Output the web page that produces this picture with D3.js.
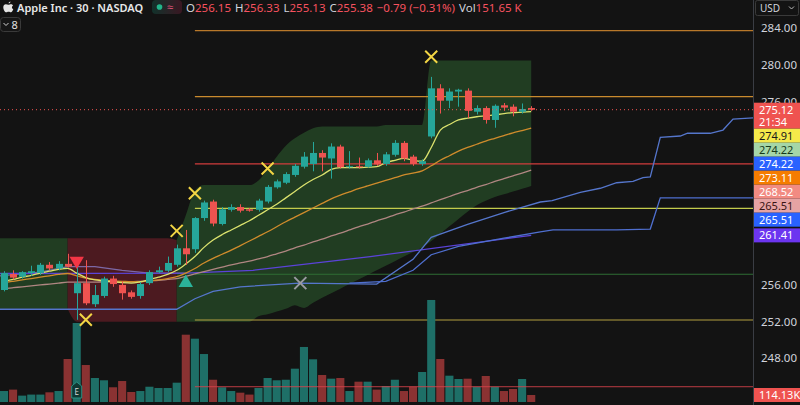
<!DOCTYPE html>
<html>
<head>
<meta charset="utf-8">
<script src="https://cdn.jsdelivr.net/npm/d3@7"></script>
<style>
  html, body { margin: 0; padding: 0; background: #131313; }
  svg { display: block; font-family: "Noto Sans", sans-serif; }
</style>
</head>
<body>
<svg id="chart" width="800" height="405"></svg>
<script>
const opens = [255.45, 257.2, 256.9, 257.3, 257.3, 258.2, 257.8, 258.3, 255.1, 256.2,
  253.9, 254.8, 256.7, 256.0, 255.2, 254.8, 256.2, 257.4, 257.55, 258.2,
  260.0, 259.9, 263.3, 265.1, 262.65, 264.2, 264.5, 264.25, 264.2, 265.1,
  266.65, 267.15, 268.0, 268.9, 269.2, 270.4, 269.8, 271.1, 268.85, 268.95,
  268.9, 269.6, 269.2, 270.2, 271.5, 270.0, 269.2, 272.2, 277.45, 276.1,
  277.1, 277.2, 274.9, 275.3, 274.0, 275.6, 275.45, 274.9, 275.3];
const highs = [257.5, 257.6, 257.5, 258.1, 258.4, 258.5, 258.6, 259.4, 258.2, 258.7,
  256.0, 256.9, 257.0, 256.4, 255.4, 256.3, 257.6, 258.0, 259.1, 260.4,
  262.0, 263.4, 265.2, 265.3, 264.5, 264.8, 264.8, 264.4, 265.4, 266.9,
  267.5, 268.3, 269.2, 270.5, 271.6, 270.7, 271.45, 271.3, 270.6, 269.9,
  269.8, 270.4, 270.5, 271.8, 271.7, 270.2, 269.7, 278.7, 277.9, 277.45,
  277.4, 277.45, 275.6, 275.5, 275.7, 275.85, 275.7, 275.8, 275.5];
const lows = [255.3, 256.6, 256.7, 257.0, 257.1, 257.6, 257.6, 257.9, 252.2, 253.8,
  253.6, 254.6, 255.8, 254.4, 254.5, 254.5, 256.0, 257.3, 257.4, 258.0,
  258.2, 259.5, 263.0, 262.4, 262.5, 264.0, 263.9, 264.0, 264.0, 264.9,
  266.5, 267.0, 267.8, 268.7, 268.4, 268.4, 267.6, 268.7, 268.7, 268.7,
  268.8, 269.0, 269.0, 270.0, 269.5, 269.0, 269.0, 272.0, 274.7, 275.3,
  275.45, 274.2, 274.6, 273.6, 273.15, 275.0, 274.4, 274.7, 275.0];
const closes = [257.3, 256.8, 257.4, 257.5, 258.2, 257.8, 258.3, 258.0, 256.2, 254.0,
  254.9, 256.7, 256.1, 255.1, 254.7, 256.1, 257.4, 257.6, 258.4, 260.0,
  259.35, 263.3, 265.0, 262.7, 264.25, 264.5, 264.1, 264.1, 265.2, 266.7,
  267.3, 268.1, 269.0, 270.0, 270.4, 269.9, 271.1, 268.85, 268.95, 268.85,
  269.6, 269.15, 270.25, 271.5, 269.8, 269.2, 269.5, 277.45, 276.1, 277.1,
  277.3, 275.0, 275.3, 274.0, 275.55, 275.35, 274.9, 275.2, 275.12];
// volume in thousands
const volumes = [179, 202, 104, 121, 121, 158, 179, 701, 1288, 603,
  391, 354, 240, 342, 163, 179, 249, 228, 228, 315,
  1097, 1032, 782, 363, 240, 179, 152, 121, 228, 391,
  354, 363, 543, 897, 696, 440, 380, 391, 179, 331,
  331, 202, 261, 363, 179, 249, 489, 1663, 701, 429,
  375, 380, 249, 424, 249, 179, 212, 375, 114.13];

const maFast = [256.4, 256.6, 256.85, 257.05, 257.3, 257.5, 257.7, 257.8, 257.3, 256.8,
  256.55, 256.45, 256.35, 256.25, 256.2, 256.35, 256.6, 256.85, 257.15, 257.6,
  258.3, 259.1, 260.1, 260.9, 261.5, 262.0, 262.5, 263.0, 263.6, 264.2,
  264.8, 265.5, 266.2, 266.9, 267.5, 268.0, 268.6, 268.8, 268.8, 268.8,
  268.85, 268.9, 269.35, 269.6, 269.8, 269.6, 269.5, 271.0, 272.9, 273.5,
  274.0, 274.2, 274.35, 274.45, 274.55, 274.7, 274.8, 274.85, 274.91];
const maMid = [256.25, 256.4, 256.55, 256.7, 256.85, 257.0, 257.15, 257.25, 257.0, 256.75,
  256.6, 256.5, 256.45, 256.4, 256.35, 256.35, 256.45, 256.55, 256.7, 256.9,
  257.3, 257.8, 258.4, 258.9, 259.35, 259.8, 260.3, 260.8, 261.3, 261.8,
  262.35, 262.9, 263.4, 263.9, 264.4, 264.9, 265.4, 265.8, 266.15, 266.5,
  266.8, 267.1, 267.4, 267.7, 268.0, 268.2, 268.45, 269.0, 269.6, 270.1,
  270.6, 271.0, 271.35, 271.7, 272.0, 272.3, 272.6, 272.85, 273.11];
const maSlow = [255.6, 255.7, 255.8, 255.9, 256.0, 256.1, 256.2, 256.3, 256.3, 256.3,
  256.3, 256.35, 256.35, 256.35, 256.35, 256.4, 256.45, 256.5, 256.6, 256.7,
  256.95, 257.2, 257.45, 257.7, 257.95, 258.2, 258.4, 258.6, 258.85, 259.1,
  259.4, 259.7, 260.05, 260.35, 260.7, 261.0, 261.35, 261.65, 262.0, 262.35,
  262.65, 263.0, 263.3, 263.65, 263.95, 264.3, 264.6, 264.95, 265.3, 265.65,
  266.0, 266.3, 266.65, 266.95, 267.3, 267.6, 267.9, 268.2, 268.52];

const cloudUpper = [261.1, 261.1, 261.1, 261.1, 261.1, 261.1, 261.1, 261.1, 261.1, 261.1,
  261.1, 261.1, 261.1, 261.1, 261.1, 261.1, 261.1, 261.1, 261.1, 260.9,
  263.6, 266.3, 266.9, 266.9, 266.9, 266.9, 266.9, 266.9, 267.4, 268.6,
  270.0, 271.2, 272.0, 272.6, 273.1, 273.3, 273.3, 273.3, 273.3, 273.3,
  273.3, 273.3, 273.45, 273.45, 273.45, 273.45, 273.45, 280.5, 280.5, 280.5,
  280.5, 280.5, 280.5, 280.5, 280.5, 280.5, 280.5, 280.5, 280.5];
const cloudLower = [253.4, 253.4, 253.4, 253.4, 253.4, 253.4, 253.4, 253.4, 252.0, 252.0,
  252.0, 252.0, 252.0, 252.0, 252.0, 252.0, 252.0, 252.0, 252.0, 252.0,
  252.0, 252.0, 252.0, 252.0, 252.0, 252.0, 252.0, 252.0, 252.6, 252.8,
  253.1, 253.4, 253.8, 253.5, 254.05, 254.6, 255.1, 255.6, 256.1, 256.6,
  257.1, 257.6, 258.1, 258.6, 259.1, 259.6, 260.1, 260.8, 261.6, 262.4,
  263.2, 264.0, 264.7, 265.2, 265.6, 265.9, 266.2, 266.5, 266.8];
const cloudTrend = [1, 1, 1, 1, 1, 1, 1, -1, -1, -1,
  -1, -1, -1, -1, -1, -1, -1, -1, -1, 1,
  1, 1, 1, 1, 1, 1, 1, 1, 1, 1,
  1, 1, 1, 1, 1, 1, 1, 1, 1, 1,
  1, 1, 1, 1, 1, 1, 1, 1, 1, 1,
  1, 1, 1, 1, 1, 1, 1, 1, 1];

// [bar index, price]
const bluePrimary = [[-0.44, 253.35], [19, 253.35], [21, 254.5], [23, 255.3], [26, 255.8], [32.5, 256.2],
  [41, 256.1], [45, 258.8], [47, 261.2], [51, 262.6], [55, 263.9], [59, 265.05], [60.3, 265.2],
  [63.4, 266.1], [65.6, 266.55], [67.4, 267.15], [69.2, 267.3], [70.3, 267.7], [71.1, 267.8],
  [72.2, 272.1], [74.4, 272.25], [75.2, 272.55], [77.7, 272.55], [79.1, 272.9], [80.2, 274.1], [82.4, 274.22]];
const blueSecondary = [[38, 256.2], [42, 256.4], [45, 257.6], [47, 259.3], [50, 260.2], [55, 261.1],
  [59, 261.8], [60.4, 262.0], [67.4, 262.0], [71.1, 262.1], [72.2, 265.51], [82.4, 265.51]];
const purpleLine = [[-0.44, 257.25], [20, 257.3], [27.4, 257.6], [40.3, 259.1], [58, 261.41]];
const lavenderLine = [[-0.44, 257.0], [4, 257.4], [7, 258.0], [10, 258.0], [13, 257.6], [16, 257.3], [20, 257.3]];

const levelPrices = [283.75, 276.55, 269.2, 264.35, 257.17, 252.18];
const levelColors = ["#b8782a", "#c98a2e", "#d23c3c", "#c4cc4c", "#2f6e35", "#b4a040"];
const levelStart = 21;
const volumeLevel = 249;

const crossMarks = [[9, 252.2], [19, 261.9], [21, 266.0], [29, 268.7], [47, 280.9]];
const greyCross = [32.6, 256.2];
const sellSignal = [8, 258.2];
const buySignal = [20, 256.9];
const earningsBar = 8;

const priceTicks = [284, 280, 276, 272, 268, 264, 260, 256, 252, 248];
const axisLabels = [
  { v: 275.12, text: "275.12", sub: "21:34", bg: "#ef5350", fg: "#ffffff" },
  { v: 274.91, text: "274.91", bg: "#f5e94a", fg: "#1a1a1a" },
  { v: 274.22, text: "274.22", bg: "#a5d6a7", fg: "#163a1a" },
  { v: 274.22, text: "274.22", bg: "#2962ff", fg: "#ffffff" },
  { v: 273.11, text: "273.11", bg: "#f57c00", fg: "#ffffff" },
  { v: 268.52, text: "268.52", bg: "#f28b82", fg: "#ffffff" },
  { v: 265.51, text: "265.51", bg: "#e6a3a3", fg: "#3a1414" },
  { v: 265.51, text: "265.51", bg: "#2962ff", fg: "#ffffff" },
  { v: 261.41, text: "261.41", bg: "#6c35f0", fg: "#ffffff" },
];
const lastPrice = 275.12;

const svg = d3.select("#chart");
const plotRight = 753;
const up = "#26a69a";
const down = "#ef5350";

const x = d3.scaleLinear().domain([-0.44, 82.4]).range([0, plotRight]);
const y = d3.scaleLinear().domain([248, 284]).range([358.3, 28.3]);
const yVol = d3.scaleLinear().domain([0, 2000]).range([402, 402 - 2000 / 16.3]);
const step = x(1) - x(0);

svg.append("rect").attr("width", 800).attr("height", 405).attr("fill", "#131313");

// trend cloud, split into runs of the same direction
const runs = [];
let start = 0;
for (let i = 1; i <= closes.length; i++) {
  if (i === closes.length || cloudTrend[i] !== cloudTrend[start]) {
    runs.push({ from: start, to: Math.min(i, closes.length - 1), trend: cloudTrend[start] });
    start = i;
  }
}
const cloudArea = d3
  .area()
  .x((d) => {
    return d.i === 0 ? 0 : x(d.i);
  })
  .y0((d) => {
    return y(cloudLower[d.i]);
  })
  .y1((d) => {
    return y(cloudUpper[d.i]);
  })
  .curve(d3.curveMonotoneX);
svg
  .append("g")
  .selectAll("path")
  .data(runs)
  .join("path")
  .attr("d", (r) => {
    return cloudArea(d3.range(r.from, r.to + 1).map((i) => ({ i })));
  })
  .attr("fill", (r) => {
    return r.trend > 0 ? "#213d22" : "#4c1a20";
  });

// horizontal levels
svg
  .append("g")
  .selectAll("line")
  .data(levelPrices)
  .join("line")
  .attr("x1", x(levelStart))
  .attr("x2", plotRight)
  .attr("y1", (d) => y(d))
  .attr("y2", (d) => y(d))
  .attr("stroke", (d, i) => levelColors[i])
  .attr("stroke-width", 1.2);

// volume
svg
  .append("g")
  .selectAll("rect")
  .data(volumes)
  .join("rect")
  .attr("x", (d, i) => x(i) - step / 2 + 0.5)
  .attr("width", step - 1)
  .attr("y", (d) => yVol(d))
  .attr("height", (d) => yVol(0) - yVol(d))
  .attr("fill", (d, i) => {
    return closes[i] >= opens[i] ? "#1e6f67" : "#8a3232";
  });
svg
  .append("line")
  .attr("x1", x(levelStart))
  .attr("x2", plotRight)
  .attr("y1", yVol(volumeLevel))
  .attr("y2", yVol(volumeLevel))
  .attr("stroke", "#d9434b")
  .attr("stroke-opacity", 0.85);

// moving averages and other indicator lines
const barLine = d3
  .line()
  .x((d, i) => x(i))
  .y((d) => y(d));
const pointLine = d3
  .line()
  .x((d) => x(d[0]))
  .y((d) => y(d[1]));
const lines = svg.append("g").attr("fill", "none").attr("stroke-width", 1.3);
lines.append("path").attr("d", pointLine(lavenderLine)).attr("stroke", "#8a7cc8").attr("stroke-opacity", 0.8);
lines.append("path").attr("d", pointLine(purpleLine)).attr("stroke", "#5b43d9");
lines.append("path").attr("d", pointLine(bluePrimary)).attr("stroke", "#5576cc");
lines.append("path").attr("d", pointLine(blueSecondary)).attr("stroke", "#4f6fcf");
lines.append("path").attr("d", barLine.curve(d3.curveMonotoneX)(maSlow)).attr("stroke", "#b08682");
lines.append("path").attr("d", barLine(maMid)).attr("stroke", "#d08c2c");
lines.append("path").attr("d", barLine(maFast)).attr("stroke", "#dbe26e");

// candles
const candles = svg.append("g").selectAll("g").data(closes).join("g");
candles
  .append("line")
  .attr("x1", (d, i) => Math.round(x(i)) + 0.5)
  .attr("x2", (d, i) => Math.round(x(i)) + 0.5)
  .attr("y1", (d, i) => y(highs[i]))
  .attr("y2", (d, i) => y(lows[i]))
  .attr("stroke", (d, i) => (d >= opens[i] ? up : down));
candles
  .append("rect")
  .attr("x", (d, i) => Math.round(x(i)) - 3)
  .attr("width", 7)
  .attr("y", (d, i) => y(Math.max(d, opens[i])))
  .attr("height", (d, i) => Math.max(1, Math.abs(y(d) - y(opens[i]))))
  .attr("fill", (d, i) => (d >= opens[i] ? up : down));

// markers
const cross = (g, cx, cy, color) => {
  g.append("path")
    .attr("d", `M${cx - 6},${cy - 6}L${cx + 6},${cy + 6}M${cx + 6},${cy - 6}L${cx - 6},${cy + 6}`)
    .attr("stroke", color)
    .attr("stroke-width", 2)
    .attr("fill", "none");
};
const marks = svg.append("g");
crossMarks.forEach((m) => cross(marks, x(m[0]), y(m[1]), "#f2d544"));
cross(marks, x(greyCross[0]), y(greyCross[1]), "#9a9aa2");
marks
  .append("path")
  .attr("d", d3.symbol(d3.symbolTriangle, 90))
  .attr("transform", `translate(${x(sellSignal[0])},${y(sellSignal[1]) - 4}) rotate(180)`)
  .attr("fill", "#f23645");
marks
  .append("path")
  .attr("d", d3.symbol(d3.symbolTriangle, 90))
  .attr("transform", `translate(${x(buySignal[0])},${y(buySignal[1]) + 6})`)
  .attr("fill", "#2bb39a");
const ex = x(earningsBar);
marks
  .append("path")
  .attr("d", `M${ex - 5},${386}L${ex},${382}L${ex + 5},${386}L${ex + 5},${398}L${ex - 5},${398}Z`)
  .attr("fill", "#0f3833")
  .attr("stroke", "#2a8f82");
marks
  .append("text")
  .attr("x", ex)
  .attr("y", 395)
  .attr("text-anchor", "middle")
  .attr("font-size", 8)
  .attr("fill", "#d8d8d8")
  .text("E");

// last price dotted line
svg
  .append("line")
  .attr("x1", 0)
  .attr("x2", plotRight)
  .attr("y1", y(lastPrice))
  .attr("y2", y(lastPrice))
  .attr("stroke", "#ef5350")
  .attr("stroke-dasharray", "1,3");

// header
const head = svg.append("g");
head
  .append("path")
  .attr("d", "M8.5,3.2c0.3-1 1.1-1.7 2-1.8c0,1-0.7,1.8-2,1.8z M5.8,4.3c1,0 1.6,0.5 2.6,0.5c1,0 1.5-0.5 2.6-0.5c0.8,0 1.6,0.5 2,1.2c-1.6,0.9-1.4,3.2 0.3,3.8c-0.5,1.4-1.4,3-2.4,3c-0.9,0-1.1-0.5-2.3-0.5c-1.1,0-1.5,0.5-2.3,0.5c-1.3,0-3-2.6-3-5.1c0-1.8 1.2-2.9 2.5-2.9z")
  .attr("fill", "#e6e6e6");
head
  .append("text")
  .attr("x", 17)
  .attr("y", 12)
  .attr("font-size", 11)
  .attr("font-weight", 600)
  .attr("fill", "#e8e8e8")
  .text("Apple Inc · 30 · NASDAQ");
const grad = svg.append("defs").append("linearGradient").attr("id", "stat");
grad.append("stop").attr("offset", "0%").attr("stop-color", "#12322b");
grad.append("stop").attr("offset", "100%").attr("stop-color", "#3a1722");
head.append("rect").attr("x", 152).attr("y", 0).attr("width", 30).attr("height", 14).attr("rx", 4).attr("fill", "url(#stat)");
head.append("circle").attr("cx", 159.5).attr("cy", 7).attr("r", 2.8).attr("fill", "#22b58a");
head.append("text").attr("x", 167).attr("y", 11).attr("font-size", 11).attr("fill", "#e0507a").text("≈");

const ohlc = [["O", "256.15"], ["H", "256.33"], ["L", "255.13"], ["C", "255.38"]];
const info = head
  .append("text")
  .attr("x", 186)
  .attr("y", 12)
  .attr("font-size", 11.5)
  .attr("fill", "#d1d4dc");
ohlc.forEach((d, i) => {
  info.append("tspan").attr("dx", i === 0 ? 0 : 4).text(d[0]);
  info.append("tspan").attr("fill", "#f7525f").text(d[1]);
});
info.append("tspan").attr("dx", 4).attr("fill", "#f7525f").text("−0.79 (−0.31%)");
info.append("tspan").attr("dx", 4).text("Vol");
info.append("tspan").attr("fill", "#f7525f").text("151.65 K");

head.append("rect").attr("x", 0.5).attr("y", 17.5).attr("width", 20).attr("height", 14).attr("rx", 3).attr("fill", "#161616").attr("stroke", "#3a3a3a");
head.append("path").attr("d", "M3.5,23l2.5,2.5l2.5,-2.5").attr("stroke", "#d0d0d0").attr("fill", "none");
head.append("text").attr("x", 11.5).attr("y", 28.5).attr("font-size", 11).attr("fill", "#e0e0e0").text("8");

// right price axis
const axis = svg.append("g");
axis.append("rect").attr("x", plotRight).attr("width", 800 - plotRight).attr("height", 405).attr("fill", "#131313");
axis.append("line").attr("x1", plotRight + 0.5).attr("x2", plotRight + 0.5).attr("y1", 0).attr("y2", 405).attr("stroke", "#3a3d44");

// stacked value labels, laid out first so covered ticks can be skipped
const boxes = [];
let prevBottom = -Infinity;
axisLabels.forEach((d) => {
  const h = d.sub ? 26 : 14;
  const top = Math.max(y(d.v) - 7, prevBottom);
  prevBottom = top + h;
  boxes.push({ ...d, top, h });
});
const boxTop = boxes[0].top;
const boxBottom = prevBottom;

axis
  .selectAll("text.tick")
  .data(
    priceTicks.filter((p) => {
      return y(p) < boxTop || y(p) > boxBottom + 10;
    })
  )
  .join("text")
  .attr("class", "tick")
  .attr("x", 761)
  .attr("y", (d) => y(d))
  .attr("dy", "0.35em")
  .attr("font-size", 11.5)
  .attr("fill", "#d1d4dc")
  .text((d) => d3.format(".2f")(d));

axis.append("rect").attr("x", 755.5).attr("y", 0.5).attr("width", 43).attr("height", 15).attr("rx", 2).attr("fill", "#131313").attr("stroke", "#3a3a3a");
axis.append("text").attr("x", 760).attr("y", 11.5).attr("font-size", 10).attr("fill", "#d1d4dc").text("USD");
axis.append("path").attr("d", "M789,6.5l2.5,2.5l2.5,-2.5").attr("stroke", "#bbbbbb").attr("fill", "none");

boxes.forEach((d) => {
  axis.append("rect").attr("x", plotRight + 1).attr("y", d.top).attr("width", 800 - plotRight - 1).attr("height", d.h).attr("fill", d.bg);
  axis.append("text").attr("x", 759).attr("y", d.top + 7).attr("dy", "0.35em").attr("font-size", 11).attr("fill", d.fg).text(d.text);
  if (d.sub) {
    axis.append("text").attr("x", 759).attr("y", d.top + 19.5).attr("dy", "0.35em").attr("font-size", 11).attr("fill", d.fg).text(d.sub);
  }
});
const lastVol = volumes[volumes.length - 1];
axis.append("rect").attr("x", plotRight + 1).attr("y", yVol(lastVol) - 7).attr("width", 800 - plotRight - 1).attr("height", 14).attr("fill", "#ef5350");
axis.append("text").attr("x", 759).attr("y", yVol(lastVol)).attr("dy", "0.35em").attr("font-size", 11).attr("fill", "#ffffff").text(d3.format(".2f")(lastVol) + "K");
</script>
</body>
</html>
